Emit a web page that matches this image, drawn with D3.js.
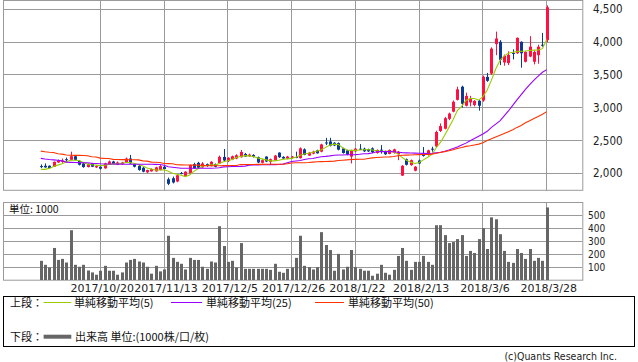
<!DOCTYPE html>
<html><head><meta charset="utf-8">
<script src="https://cdn.jsdelivr.net/npm/d3@7"></script>
<style>
body{margin:0;background:#fff}
svg{display:block}
.num{font-family:"DejaVu Sans Condensed","DejaVu Sans",sans-serif;fill:#222}
.xlab{font-family:"DejaVu Sans",sans-serif;fill:#222}
.jp{font-family:"Noto Sans CJK JP","DejaVu Sans",sans-serif;fill:#111}
</style>
</head><body>
<svg id="c" width="638" height="362"></svg>
<script>
// ---- data ----
const openP  = [2110,2115,2115,2100,2165,2175,2215,2205,2260,2190,2150,2095,2150,2090,2100,2075,2135,2180,2130,2140,
                2165,2225,2140,2115,2085,2015,2030,2030,2050,2100,1910,1925,1875,2005,1960,2000,2140,2160,2090,2140,
                2110,2140,2150,2250,2185,2210,2225,2245,2295,2260,2280,2245,2160,2255,2175,2200,2315,2250,2225,2235,
                2250,2230,2365,2270,2300,2350,2330,2470,2485,2465,2460,2380,2350,2255,2335,2375,2375,2365,2380,2310,
                2360,2330,2295,2310,2290,1965,2215,2125,2040,2195,2290,2280,2375,2410,2645,2680,2830,2940,3120,3320,
                3030,3080,3040,3105,3110,3470,3520,3970,4005,3690,3680,3835,3830,4005,3700,3780,3700,3800,3960,4030];
const highP  = [2135,2150,2120,2180,2210,2225,2240,2330,2280,2200,2160,2150,2160,2125,2110,2160,2195,2190,2180,2175,
                2240,2280,2150,2125,2095,2055,2075,2100,2125,2120,1935,1950,1980,2020,2030,2135,2160,2175,2170,2150,
                2185,2150,2270,2370,2245,2270,2290,2355,2310,2300,2290,2255,2215,2260,2225,2280,2320,2260,2265,2265,
                2330,2395,2380,2325,2345,2360,2450,2540,2540,2475,2470,2390,2360,2360,2385,2445,2390,2375,2395,2365,
                2430,2345,2365,2375,2340,2125,2225,2210,2110,2210,2400,2360,2405,2650,2760,2860,2925,3110,3320,3335,
                3230,3180,3115,3120,3490,3530,3920,4160,4030,3810,3860,3890,4070,4010,3860,4090,3870,3960,4140,4560];
const lowP   = [2080,2085,2070,2095,2160,2160,2165,2200,2195,2120,2085,2090,2095,2080,2060,2070,2130,2140,2125,2130,
                2160,2145,2090,2040,2015,2005,2025,2025,2045,2060,1820,1845,1865,1985,1955,1995,2070,2080,2085,2100,
                2105,2095,2145,2185,2170,2200,2215,2240,2250,2250,2240,2155,2150,2170,2140,2190,2235,2215,2215,2225,
                2230,2225,2275,2265,2290,2300,2320,2430,2410,2415,2350,2300,2275,2150,2325,2355,2325,2325,2310,2300,
                2300,2280,2290,2300,2200,1960,2120,2115,2030,2140,2255,2270,2330,2390,2630,2670,2810,2930,3110,3000,
                3020,3020,3020,2955,3090,3395,3500,3800,3650,3640,3650,3735,3820,3610,3690,3770,3660,3670,3930,4000];
const closeP = [2095,2090,2080,2175,2200,2195,2205,2260,2205,2130,2095,2140,2100,2110,2070,2150,2180,2145,2165,2165,
                2225,2150,2100,2050,2025,2050,2065,2090,2110,2065,1840,1860,1970,1995,2025,2125,2075,2085,2150,2110,
                2175,2100,2250,2195,2235,2260,2275,2325,2255,2285,2250,2165,2200,2180,2215,2270,2245,2225,2255,2255,
                2240,2380,2280,2315,2330,2305,2440,2455,2420,2425,2360,2310,2285,2350,2375,2365,2335,2335,2320,2355,
                2350,2290,2355,2365,2330,2115,2130,2200,2100,2150,2265,2350,2365,2630,2720,2840,2910,3090,3280,3060,
                3180,3140,3105,3030,3470,3410,3900,4055,3730,3790,3805,3820,4065,3830,3850,3930,3850,3930,3945,4530];
const volume = [149,118,97,249,156,164,136,387,118,103,118,74,59,41,72,110,72,72,41,59,
                136,156,164,144,136,103,49,110,67,82,344,172,141,126,82,172,156,156,103,87,
                144,136,418,264,141,149,97,287,87,87,87,87,87,87,79,126,64,56,87,97,
                172,344,110,100,82,100,372,272,233,72,203,82,103,233,100,87,72,72,33,49,
                118,56,41,79,187,249,149,79,141,141,187,141,118,426,426,349,287,295,318,349,
                187,226,210,318,403,241,487,472,356,226,141,133,241,210,164,241,149,172,149,564];
const ma5    = [2060,2060,2075,2105,2125,2145,2175,2200,2200,2195,2165,2140,2130,2125,2115,2125,2135,2140,2145,2150,
                2165,2165,2150,2135,2110,2080,2065,2050,2050,2055,2030,2000,1985,1970,1950,1975,2030,2070,2110,2120,
                2130,2125,2150,2175,2190,2210,2240,2255,2270,2265,2255,2235,2220,2205,2190,2190,2200,2215,2220,2228,
                2245,2275,2295,2305,2320,2340,2360,2395,2430,2445,2440,2390,2355,2350,2350,2355,2358,2360,2355,2345,
                2335,2335,2335,2320,2300,2240,2200,2170,2150,2165,2205,2245,2290,2390,2470,2580,2700,2820,2960,3020,
                3110,3140,3140,3115,3170,3270,3420,3590,3720,3790,3830,3845,3855,3860,3865,3872,3878,3880,3900,4040];
const ma25   = [2228,2218,2210,2205,2200,2190,2170,2167,2165,2163,2162,2160,2152,2150,2145,2142,2142,2142,2140,2140,
                2138,2138,2137,2137,2137,2137,2137,2136,2135,2122,2100,2092,2085,2078,2076,2076,2076,2076,2076,2077,
                2078,2080,2085,2098,2101,2103,2104,2106,2110,2122,2127,2128,2130,2131,2132,2133,2135,2140,2160,2180,
                2187,2195,2210,2222,2226,2240,2253,2258,2265,2275,2279,2280,2282,2283,2285,2290,2298,2300,2310,2328,
                2330,2331,2332,2328,2320,2315,2312,2310,2308,2306,2304,2303,2305,2312,2320,2335,2355,2378,2400,2430,
                2460,2495,2530,2565,2600,2640,2700,2750,2800,2875,2950,3035,3120,3200,3280,3350,3420,3480,3540,3580];
const ma50   = [2338,2328,2322,2318,2298,2292,2278,2275,2274,2273,2272,2268,2252,2248,2232,2228,2226,2212,2210,2209,
                2208,2207,2206,2204,2190,2186,2170,2168,2165,2150,2148,2146,2130,2128,2127,2126,2125,2124,2118,2117,
                2116,2116,2116,2117,2117,2118,2120,2133,2134,2135,2135,2136,2136,2137,2137,2138,2138,2139,2145,2158,
                2160,2161,2162,2165,2170,2175,2178,2180,2182,2185,2195,2200,2205,2210,2212,2214,2215,2225,2235,2242,
                2245,2248,2250,2255,2268,2275,2277,2280,2282,2284,2286,2288,2292,2305,2318,2330,2345,2360,2378,2392,
                2410,2420,2432,2445,2465,2500,2525,2555,2580,2605,2635,2665,2700,2730,2770,2800,2835,2865,2900,2940];
const tickIdx    = [14,29,44,59,74,89,104,119];
const tickLabels = ["2017/10/20","2017/11/13","2017/12/5","2017/12/26","2018/1/22","2018/2/13","2018/3/6","2018/3/28"];
const priceTicks = [2000,2500,3000,3500,4000,4500];
const volTicks   = [100,200,300,400,500];
const legendTop  = ["単純移動平均(5)","単純移動平均(25)","単純移動平均(50)"];

// ---- styles ----
const RED="#ff1040", BLUE="#0a3a96", GRID="#9a9a9a";
const MA_COL=["#99cc00","#9900ff","#ff3300"];

const svg=d3.select("#c");
svg.append("rect").attr("width",638).attr("height",362).attr("fill","#fff");

const P={l:3,r:582.3,t:0.5,b:190.3};
const V={t:202.3,b:280};
const x=d3.scaleLinear().domain([-8.887,127.37]).range([P.l,P.r]);
const y=d3.scaleLinear().domain([1740.9,4634.1]).range([P.b,P.t]);
const yv=d3.scaleLinear().domain([0,604]).range([V.b,V.t]);
const px=v=>Math.floor(v)+0.5;

// ---- price panel ----
const gP=svg.append("g");
gP.selectAll(".hg").data(priceTicks).join("line")
  .attr("x1",P.l).attr("x2",P.r).attr("y1",d=>px(y(d))).attr("y2",d=>px(y(d)))
  .attr("stroke",GRID).attr("stroke-width",1);
gP.selectAll(".vg").data(tickIdx).join("line")
  .attr("x1",d=>px(x(d))).attr("x2",d=>px(x(d))).attr("y1",P.t).attr("y2",P.b)
  .attr("stroke",GRID).attr("stroke-width",1);
gP.append("rect").attr("x",P.l+0.5).attr("y",P.t).attr("width",P.r-P.l).attr("height",P.b-P.t)
  .attr("fill","none").attr("stroke",GRID).attr("stroke-width",1);

const idx=d3.range(closeP.length);
const col=i=>closeP[i]>=openP[i]?RED:BLUE;
gP.selectAll(".wick").data(idx).join("line")
  .attr("x1",i=>Math.round(x(i))+0.5).attr("x2",i=>Math.round(x(i))+0.5)
  .attr("y1",i=>y(highP[i])).attr("y2",i=>y(lowP[i]))
  .attr("stroke",col).attr("stroke-width",1);
gP.selectAll(".body").data(idx).join("rect")
  .attr("x",i=>Math.round(x(i))-1).attr("width",3)
  .attr("y",i=>y(Math.max(openP[i],closeP[i])))
  .attr("height",i=>Math.max(1,Math.abs(y(openP[i])-y(closeP[i]))))
  .attr("fill",col);

[ma5,ma25,ma50].forEach((arr,k)=>{
  gP.append("path").datum(arr)
    .attr("d",d3.line().x((d,i)=>x(i)).y(d=>y(d)))
    .attr("fill","none").attr("stroke",MA_COL[k]).attr("stroke-width",1.1);
});

svg.selectAll(".pl").data(priceTicks).join("text").attr("class","num")
  .attr("x",593).attr("y",d=>y(d)).attr("dy","0.36em")
  .attr("font-size",11.5).text(d3.format(","));

// ---- volume panel ----
const gV=svg.append("g");
gV.selectAll(".vh").data(volTicks).join("line")
  .attr("x1",P.l).attr("x2",P.r).attr("y1",d=>px(yv(d))).attr("y2",d=>px(yv(d)))
  .attr("stroke",GRID).attr("stroke-width",1);
gV.selectAll(".vv").data(tickIdx).join("line")
  .attr("x1",d=>px(x(d))).attr("x2",d=>px(x(d))).attr("y1",V.t).attr("y2",V.b)
  .attr("stroke",GRID).attr("stroke-width",1);
gV.append("rect").attr("x",P.l+0.5).attr("y",px(V.t)).attr("width",P.r-P.l).attr("height",V.b-V.t)
  .attr("fill","none").attr("stroke",GRID).attr("stroke-width",1);
gV.selectAll(".bar").data(idx).join("rect")
  .attr("x",i=>Math.round(x(i))-1).attr("width",3)
  .attr("y",i=>yv(volume[i])).attr("height",i=>V.b-yv(volume[i]))
  .attr("fill","#666");
svg.selectAll(".vl").data(volTicks).join("text").attr("class","num")
  .attr("x",588).attr("y",d=>yv(d)).attr("dy","0.36em")
  .attr("font-size",10).text(d=>d);
svg.append("text").attr("class","jp").attr("x",9).attr("y",213).attr("font-size",10.5).text("単位: 1000");

// x labels
svg.selectAll(".xl").data(tickIdx).join("text").attr("class","xlab")
  .attr("x",d=>x(d)+2).attr("y",292).attr("text-anchor","middle")
  .attr("font-size",11).text((d,i)=>tickLabels[i]);

// ---- legend ----
svg.append("rect").attr("x",3.5).attr("y",296.5).attr("width",631).attr("height",50)
  .attr("fill","none").attr("stroke","#000").attr("stroke-width",1);
svg.append("text").attr("class","jp").attr("x",10).attr("y",306.5).attr("font-size",11).text("上段：");
const lx=[[43.6,71.3,74],[171,202,206],[315,344,348]];
lx.forEach((p,k)=>{
  svg.append("line").attr("x1",p[0]).attr("x2",p[1]).attr("y1",302.5).attr("y2",302.5)
    .attr("stroke",MA_COL[k]).attr("stroke-width",1);
  svg.append("text").attr("class","jp").attr("x",p[2]).attr("y",306.5).attr("font-size",11).text(legendTop[k]);
});
svg.append("text").attr("class","jp").attr("x",10).attr("y",340.5).attr("font-size",11).text("下段：");
svg.append("line").attr("x1",43.6).attr("x2",71.3).attr("y1",336.7).attr("y2",336.7)
  .attr("stroke","#666").attr("stroke-width",4);
svg.append("text").attr("class","jp").attr("x",75).attr("y",340.5).attr("font-size",11).text("出来高 単位:(1000株/口/枚)");
svg.append("text").attr("class","num").attr("x",617).attr("y",360).attr("text-anchor","end")
  .attr("font-size",10.5).text("(c)Quants Research Inc.");
</script>
</body></html>
